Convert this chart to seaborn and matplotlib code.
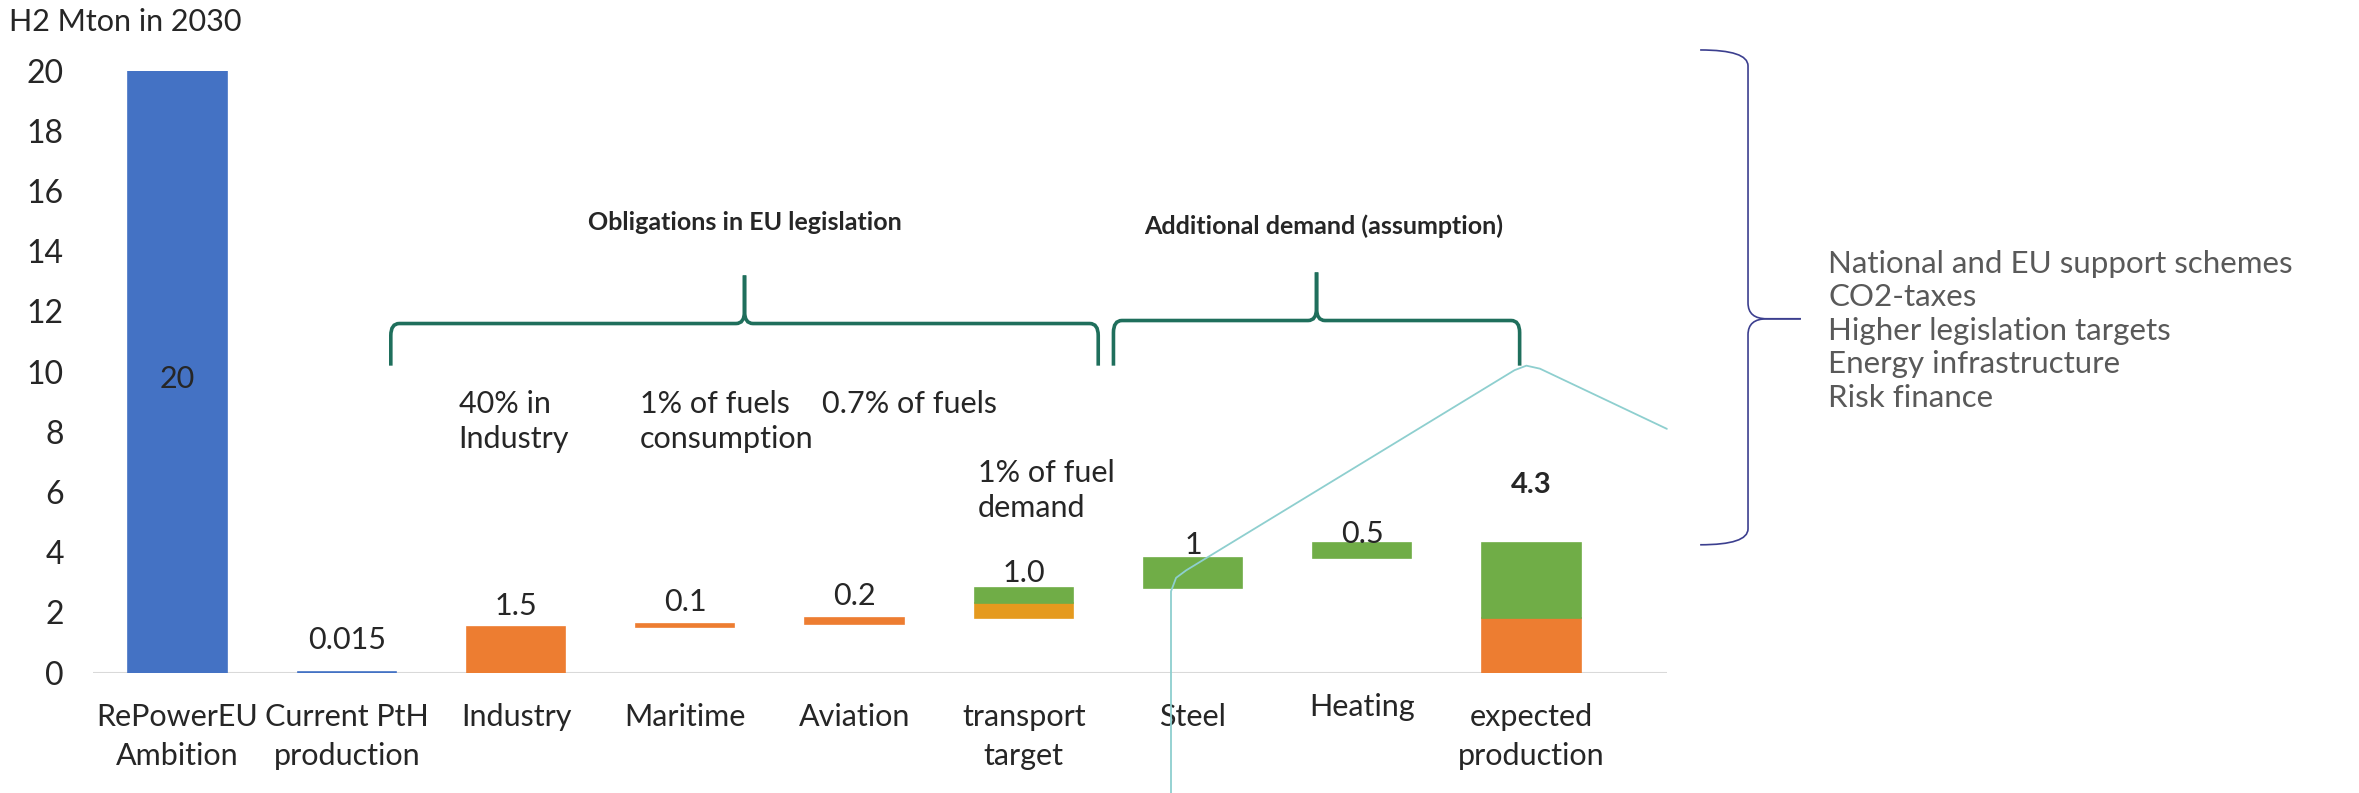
"""H2 demand 2030: floating bars from RePowerEU ambition down to expected production."""

import matplotlib.pyplot as plt
import matplotlib.transforms as mtransforms
import pandas as pd
import seaborn as sns
from matplotlib.patches import PathPatch
from matplotlib.path import Path

categories = ["RePowerEU\nAmbition", "Current PtH\nproduction", "Industry", "Maritime",
              "Aviation", "transport\ntarget", "Steel", "Heating", "expected\nproduction"]

# floating bar segments (category, bottom, height, colour group)
seg_cat = ["RePowerEU\nAmbition", "Current PtH\nproduction", "Industry", "Maritime",
           "Aviation", "transport\ntarget", "transport\ntarget", "Steel", "Heating",
           "expected\nproduction", "expected\nproduction"]
seg_bottom = [0, 0, 0, 1.5, 1.6, 1.8, 2.3, 2.8, 3.8, 0, 1.8]
seg_height = [20, 0.015, 1.5, 0.1, 0.2, 0.5, 0.5, 1.0, 0.5, 1.8, 2.5]
seg_group = ["blue", "blue", "orange", "orange", "orange", "amber", "green",
             "green", "green", "orange", "green"]

value_labels = ["20", "0.015", "1.5", "0.1", "0.2", "1.0", "1", "0.5", "4.3"]

note_cat = ["Industry", "Maritime", "Aviation", "transport\ntarget"]
note_text = ["40% in\nIndustry", "1% of fuels\nconsumption", "0.7% of fuels",
             "1% of fuel\ndemand"]

drivers = ["National and EU support schemes", "CO2-taxes", "Higher legislation targets",
           "Energy infrastructure", "Risk finance"]

palette = {"blue": "#4472C4", "orange": "#ED7D31", "amber": "#E59A1E", "green": "#70AD47"}

# layout only
label_off = [-10.25, 1.08, 0.7, 0.75, 0.75, 0.5, 0.45, 0.3, 1.95]
note_pos = [(-0.34, 9.4), (-0.27, 9.4), (-0.19, 9.4), (-0.27, 7.1)]
BRACE_COLOR = "#1F6F5C"


def hbrace(ax, x0, x1, y_leg, y_bar, y_tip, rx=0.05, ry=0.4, **kw):
    xm = (x0 + x1) / 2
    for xa, s in ((x0, 1), (x1, -1)):
        verts = [(xa, y_leg), (xa, y_bar - ry), (xa, y_bar), (xa + s * rx, y_bar),
                 (xm - s * rx, y_bar), (xm, y_bar), (xm, y_bar + ry), (xm, y_tip)]
        codes = [Path.MOVETO, Path.LINETO, Path.CURVE3, Path.CURVE3, Path.LINETO,
                 Path.CURVE3, Path.CURVE3, Path.LINETO]
        ax.add_patch(PathPatch(Path(verts, codes), fill=False, clip_on=False, **kw))


def vbrace(fig, xa, xb, xc, y_top, y_tip, y_bot, ry=0.02, **kw):
    for ya, s in ((y_top, -1), (y_bot, 1)):
        verts = [(xa, ya), (xb, ya), (xb, ya + s * ry), (xb, y_tip - s * ry),
                 (xb, y_tip), (xb + 0.008, y_tip), (xc, y_tip)]
        codes = [Path.MOVETO, Path.CURVE3, Path.CURVE3, Path.LINETO,
                 Path.CURVE3, Path.CURVE3, Path.LINETO]
        fig.add_artist(PathPatch(Path(verts, codes), fill=False,
                                 transform=fig.transFigure, **kw))


def main():
    sns.set_style("white")
    plt.rcParams["font.family"] = ["Lato", "DejaVu Sans"]

    df = pd.DataFrame({"cat": seg_cat, "bottom": seg_bottom,
                       "height": seg_height, "group": seg_group})
    df["top"] = df["bottom"] + df["height"]
    tops = df.groupby("cat")["top"].max().reindex(categories)

    fig = plt.figure(figsize=(23.59, 7.93), dpi=100)
    ax = fig.add_axes([0.0394, 0.1518, 0.6672, 0.759])

    for g, sub in df.groupby("group", sort=False):
        sub = sub.assign(o=sub["cat"].map(categories.index)).sort_values("o")
        sns.barplot(data=sub, x="cat", y="height", order=categories,
                    color=palette[g], saturation=1, width=0.58, errorbar=None,
                    bottom=sub["bottom"].to_numpy(), edgecolor=palette[g],
                    linewidth=1.2, ax=ax)

    ax.set_xlim(-0.5, 8.8)
    ax.set_ylim(0, 20)
    ax.set_yticks(range(0, 21, 2))
    ax.set_xlabel("")
    ax.set_ylabel("")
    ax.tick_params(axis="x", length=0, labelsize=22, pad=22)
    ax.tick_params(axis="y", length=0, labelsize=23, pad=21)
    for lbl in ax.get_xticklabels():
        lbl.set_linespacing(1.45)
        if lbl.get_text() == "Heating":
            lbl.set_transform(lbl.get_transform() + mtransforms.ScaledTranslation(
                0, 7 / 72, fig.dpi_scale_trans))
    sns.despine(ax=ax, left=True, bottom=True)
    ax.axhline(0, color="#D9D9D9", lw=1.5, zorder=0)

    # value labels
    for i, (lab, top) in enumerate(zip(value_labels, tops.values)):
        bold = lab == "4.3"
        ax.text(i, top + label_off[i], lab, ha="center", va="center",
                fontsize=21 if bold else 22, fontweight="bold" if bold else "normal")

    # legislation notes
    for cat, txt, (dx, y) in zip(note_cat, note_text, note_pos):
        ax.text(categories.index(cat) + dx, y, txt, ha="left", va="top",
                fontsize=22, linespacing=1.3)

    # group brackets
    hbrace(ax, 1.26, 5.44, 10.2, 11.6, 13.2, color=BRACE_COLOR, lw=2.6)
    hbrace(ax, 5.53, 7.93, 10.2, 11.7, 13.3, color=BRACE_COLOR, lw=2.6)
    ax.text(3.35, 14.95, "Obligations in EU legislation", ha="center", va="center",
            fontsize=18, fontweight="bold")
    ax.text(6.77, 14.85, "Additional demand (assumption)", ha="center", va="center",
            fontsize=18, fontweight="bold")

    # thin cyan guide line
    ax.plot([5.87, 5.87, 5.9, 5.96, 7.9, 7.97, 8.05, 8.8],
            [-4.1, 2.7, 3.15, 3.4, 10.05, 10.2, 10.1, 8.1],
            color="#8ECFCF", lw=1.3, clip_on=False, zorder=1)

    # right-hand brace and drivers
    vbrace(fig, 0.7207, 0.741, 0.7634, 0.937, 0.598, 0.313, color="#3C3F8F", lw=1.2)
    fig.text(0.775, 0.583, "\n".join(drivers), ha="left", va="center",
             fontsize=22.5, color="#595959", linespacing=1.24)

    fig.text(0.004, 0.972, "H2 Mton in 2030", ha="left", va="center", fontsize=22)

    fig.savefig("out.png", dpi=100)
    plt.close(fig)


if __name__ == "__main__":
    main()
